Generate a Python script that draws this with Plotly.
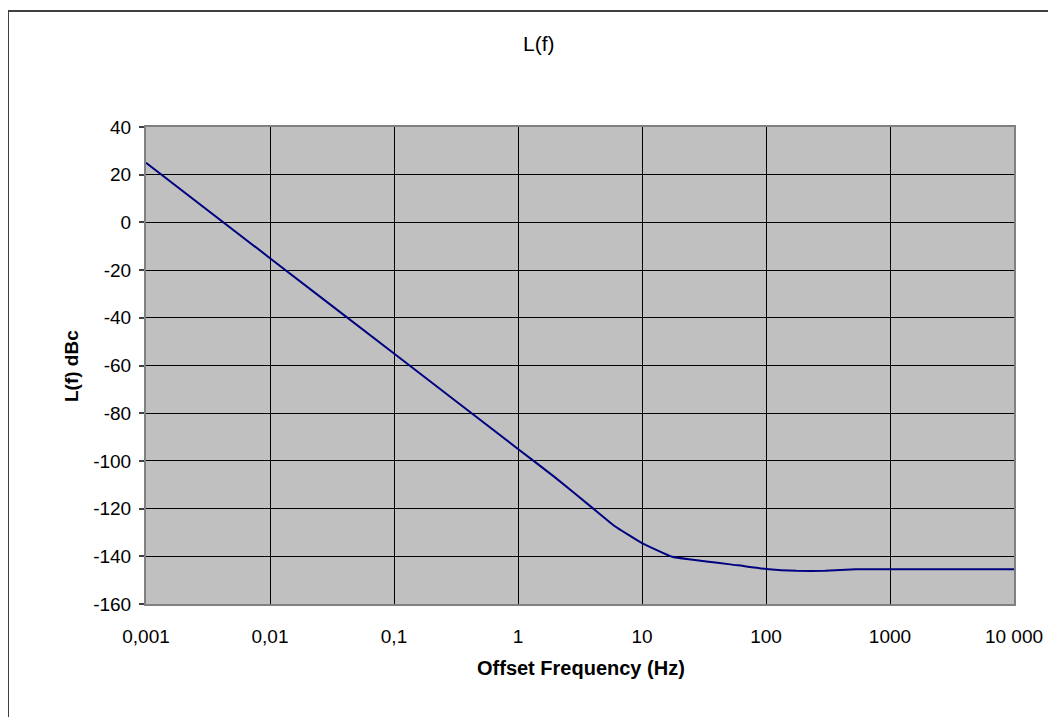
import plotly.graph_objects as go

# Data
freq_hz = [0.001, 0.01, 0.1, 1, 2, 4, 6, 10, 17.5, 60, 100, 175, 300, 530, 1000, 10000]
lf_dbc = [25, -15, -55, -95, -107, -119.8, -127.3, -134.5, -140.2, -143.8, -145.3, -146.1, -146.1, -145.4, -145.4, -145.4]

x_tickvals = [0.001, 0.01, 0.1, 1, 10, 100, 1000, 10000]
x_ticktext = ["0,001", "0,01", "0,1", "1", "10", "100", "1000", "10 000"]
y_tickvals = [40, 20, 0, -20, -40, -60, -80, -100, -120, -140, -160]
y_ticktext = ["40", "20", "0", "-20", "-40", "-60", "-80", "-100", "-120", "-140", "-160"]

OFF = 8  # page body margin
W, H = 1056 - OFF, 717 - OFF
L, R, T, B = 146 - OFF, 1014 - OFF, 127 - OFF, 604 - OFF
pw, ph = R - L, B - T

def px(x):
    return (x - OFF - L) / pw

def py(y):
    return (B - (y - OFF)) / ph

FONT = "Arial, Liberation Sans, sans-serif"

fig = go.Figure()
fig.add_trace(go.Scatter(x=freq_hz, y=lf_dbc, mode="lines", line_shape="spline",
                         line=dict(color="#000080", width=2, smoothing=0.3), showlegend=False,
                         hoverinfo="skip"))

fig.update_layout(
    width=W, height=H,
    margin=dict(l=L, r=W - R, t=T, b=H - B, autoexpand=False),
    paper_bgcolor="white",
    plot_bgcolor="#C0C0C0",
    font=dict(family=FONT, color="black", size=19),
    showlegend=False,
)

fig.update_xaxes(
    type="log", range=[-3, 4],
    tickvals=x_tickvals, ticktext=x_ticktext,
    showgrid=True, gridcolor="black", gridwidth=1,
    showline=True, mirror=True, linecolor="#808080", linewidth=2,
    ticks="", ticklabelstandoff=14,
    tickfont=dict(size=19, family=FONT),
    zeroline=False,
)
fig.update_yaxes(
    range=[-160, 40], tickvals=y_tickvals, ticktext=y_ticktext,
    showgrid=True, gridcolor="black", gridwidth=1,
    showline=True, mirror=True, linecolor="#808080", linewidth=2,
    ticks="outside", ticklen=5, tickcolor="#404040", tickwidth=2,
    ticklabelstandoff=4,
    tickfont=dict(size=19, family=FONT),
    zeroline=False,
)

# Outer chart border
fig.add_shape(type="rect", xref="paper", yref="paper",
              x0=px(8), x1=px(1080), y0=py(740), y1=py(11),
              line=dict(color="#404040", width=2), fillcolor="rgba(0,0,0,0)",
              layer="below")

# Chart title
fig.add_annotation(text="L(f)", xref="paper", yref="paper",
                   x=px(539), y=py(43), showarrow=False,
                   xanchor="center", yanchor="middle",
                   font=dict(size=21, family=FONT, color="black"))
# Axis titles
fig.add_annotation(text="<b>Offset Frequency (Hz)</b>", xref="paper", yref="paper",
                   x=px(581), y=py(668), showarrow=False,
                   xanchor="center", yanchor="middle",
                   font=dict(size=20, family=FONT, color="black"))
fig.add_annotation(text="<b>L(f) dBc</b>", xref="paper", yref="paper",
                   x=px(71), y=py(366), showarrow=False, textangle=-90,
                   xanchor="center", yanchor="middle",
                   font=dict(size=19, family=FONT, color="black"))

fig.write_html("out.html")
